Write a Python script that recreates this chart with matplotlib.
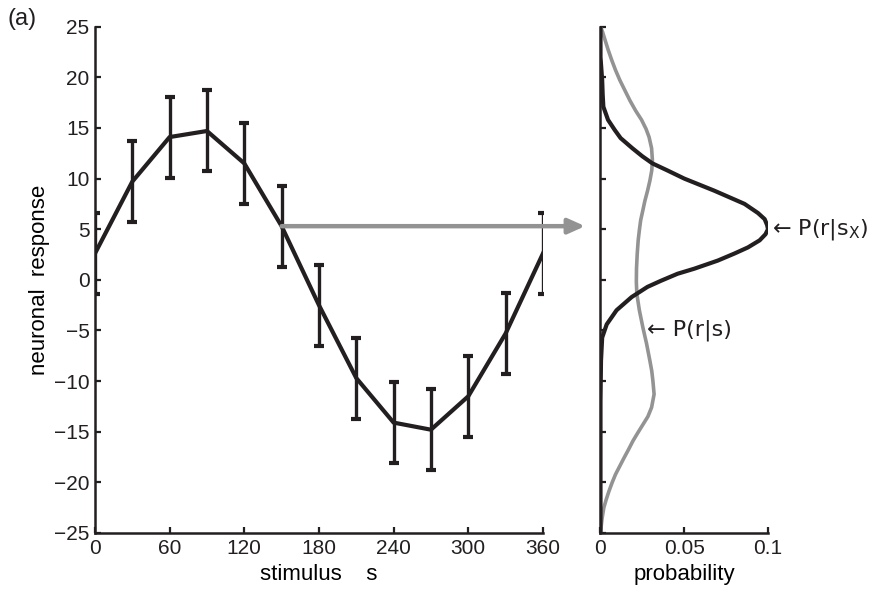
"""
Tuning curve with error bars and response distributions
"""

import matplotlib
matplotlib.use('Agg')
import matplotlib.pyplot as plt

plt.rcParams['font.family'] = ['Liberation Sans', 'DejaVu Sans']

# tuning curve (stimulus in degrees, mean response, error)
stimulus = [0, 30, 60, 90, 120, 150, 180, 210, 240, 270, 300, 330, 360]
response = [2.6, 9.7, 14.1, 14.7, 11.5, 5.3, -2.5, -9.7, -14.1, -14.8, -11.5, -5.3, 2.6]
err = [4.0] * len(stimulus)

# P(r|s_x)
r_sx = [25, 22, 19.7, 18.3, 17.1, 15.8, 14.8, 14.0, 13.0, 12.2, 11.5, 10.8, 10.0, 8.8,
        7.5, 6.6, 6.0, 5.4, 5.0, 4.5, 3.9, 3.2, 2.6, 1.9, 1.1, 0.6, -0.1, -0.7, -1.7,
        -3.0, -4.4, -5.7, -8.0, -12, -25]
p_sx = [0.0, 0.0, 0.001, 0.0013, 0.0017, 0.0045, 0.0085, 0.012, 0.019, 0.025, 0.031,
        0.040, 0.050, 0.068, 0.086, 0.094, 0.098, 0.0995, 0.100, 0.0985, 0.095, 0.088,
        0.080, 0.070, 0.056, 0.046, 0.036, 0.028, 0.0186, 0.0096, 0.0037, 0.001,
        0.0003, 0.0, 0.0]

# P(r|s)
r_s = [25, 24.5, 23.7, 22.7, 21.7, 20.7, 19.7, 18.7, 17.7, 16.7, 15.8, 14.9, 14.1, 13.0,
       11.8, 10.8, 9.8, 8.8, 7.8, 6.8, 5.9, 4.9, 3.9, 2.5, 1.1, -0.2, -1.4, -3.0, -4.7,
       -6.3, -8.0, -9.0, -10.0, -11.3, -12.6, -13.5, -14.3, -15.1, -15.9, -16.8,
       -17.6, -18.4, -19.2, -20.0, -20.9, -21.7, -22.5, -23.5, -24.5, -25]
p_s = [0.0, 0.0012, 0.0027, 0.0046, 0.0067, 0.009, 0.0116, 0.0146, 0.0176, 0.021,
       0.0245, 0.0272, 0.029, 0.0305, 0.031, 0.0306, 0.0295, 0.0281, 0.0265, 0.0252,
       0.024, 0.0232, 0.0225, 0.0219, 0.0215, 0.0214, 0.0217, 0.0232, 0.0253, 0.0275,
       0.0295, 0.0306, 0.0313, 0.032, 0.0305, 0.0283, 0.0253, 0.0223, 0.0194, 0.0166,
       0.014, 0.0115, 0.009, 0.007, 0.005, 0.0034, 0.002, 0.001, 0.0003, 0.0]

black = '#231f20'
grey = '#939393'
fs_tick = 15
fs_label = 16

fig = plt.figure(figsize=(8.76, 5.92), dpi=100)
ax1 = fig.add_axes([0.1084, 0.0997, 0.5114, 0.8552])
ax2 = fig.add_axes([0.6855, 0.0997, 0.1912, 0.8552])

# left panel: tuning curve
ax1.errorbar(stimulus, response, yerr=err, color=black, linewidth=3, elinewidth=2.4,
             capsize=3.5, capthick=3)
ax1.set_xlim(0, 360)
ax1.set_ylim(-25, 25)
ax1.set_xticks(range(0, 361, 60))
ax1.set_yticks(range(-25, 26, 5))
ax1.set_yticklabels([str(v).replace('-', '\u2212') for v in range(-25, 26, 5)])
ax1.set_xlabel('stimulus    s', fontsize=fs_label, labelpad=5)
ax1.set_ylabel('neuronal  response', fontsize=fs_label, labelpad=3)

# right panel: distributions
ax2.plot(p_s, r_s, color=grey, linewidth=2.6, solid_capstyle='round',
         solid_joinstyle='round')
ax2.plot(p_sx, r_sx, color=black, linewidth=3, solid_capstyle='round',
         solid_joinstyle='round')
ax2.set_xlim(0, 0.1)
ax2.set_ylim(-25, 25)
ax2.set_xticks([0, 0.05, 0.1])
ax2.set_xticklabels(['0', '0.05', '0.1'])
ax2.set_yticks(range(-25, 26, 5))
ax2.set_yticklabels([])
ax2.set_xlabel('probability', fontsize=fs_label, labelpad=5)

for ax in (ax1, ax2):
    ax.spines['top'].set_visible(False)
    ax.spines['right'].set_visible(False)
    ax.spines['left'].set_linewidth(1.8)
    ax.spines['bottom'].set_linewidth(1.8)
    ax.spines['left'].set_color(black)
    ax.spines['bottom'].set_color(black)
    ax.tick_params(direction='in', length=4, width=1.6, labelsize=fs_tick,
                   colors=black, pad=4)

ax2.text(0.1025, 5, '\u2190 P(r|s$_\\mathregular{X}$)', fontsize=fs_label,
         va='center', ha='left', color=black, family=['DejaVu Sans'])
ax2.text(0.0275, -5, '\u2190 P(r|s)', fontsize=fs_label, va='center', ha='left',
         color=black, family=['DejaVu Sans'])

# grey arrow from the tuning curve to the distribution panel
ax2.annotate('', xy=(-0.0092, response[5]), xycoords='data',
             xytext=(stimulus[5], response[5]), textcoords=ax1.transData,
             arrowprops=dict(arrowstyle='-|>,head_length=1.0,head_width=0.45',
                             color=grey, linewidth=3.2, shrinkA=0, shrinkB=0),
             annotation_clip=False)

fig.text(0.008, 0.958, '(a)', fontsize=fs_label + 1, color=black)

plt.savefig('out.png', dpi=100)
